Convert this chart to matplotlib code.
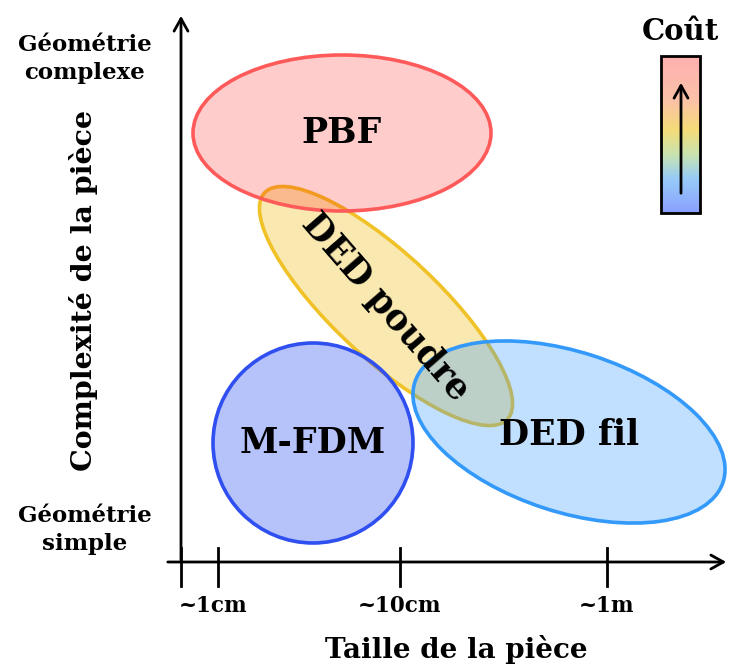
import matplotlib
matplotlib.use('Agg')
import matplotlib.pyplot as plt
from matplotlib.patches import Ellipse, Rectangle
from matplotlib.colors import LinearSegmentedColormap
import numpy as np

plt.rcParams['font.family'] = ['DejaVu Serif']
plt.rcParams['font.weight'] = 'bold'

# process regions (pixel frame of the drawing)
procedes = ['DED poudre', 'PBF', 'M-FDM', 'DED fil']
centres = [(386, 306), (342, 133), (313, 443), (569, 432)]
largeurs = [332, 298, 200, 324]
hauteurs = [105, 156, 200, 160]
angles = [43, 0, 0, 18]
remplissage = ['#f0c020', '#ff0000', '#3050f2', '#3399ff']
alphas = [0.35, 0.2, 0.35, 0.3]
contours = ['#f0c228', '#ff5a5a', '#2f4ff0', '#3399fa']
rotation_txt = [-49, 0, 0, 0]
pos_txt = [(385, 307), (342, 133), (313, 443), (569, 435)]

# size axis
ticks_x = [181, 218, 400, 607]
labels_pos = [213, 400, 607]
labels_x = ['~1cm', '~10cm', '~1m']

# cost gradient (top -> bottom)
cout_couleurs = [(0.0, '#ffb0b0'), (0.28, '#fbc2a8'), (0.47, '#f5dc78'),
                 (0.63, '#c8e4b0'), (0.78, '#98ccf8'), (1.0, '#8aa0ff')]

fig = plt.figure(figsize=(7.29, 6.67), dpi=100)
ax = fig.add_axes([0, 0, 1, 1])
ax.set_xlim(0, 729)
ax.set_ylim(667, 0)
ax.axis('off')

for i in range(len(procedes)):
    ax.add_patch(Ellipse(centres[i], largeurs[i], hauteurs[i], angle=angles[i],
                         facecolor=remplissage[i], alpha=alphas[i], edgecolor='none', zorder=2 + i))
    ax.add_patch(Ellipse(centres[i], largeurs[i], hauteurs[i], angle=angles[i],
                         facecolor='none', edgecolor=contours[i], lw=2.6, zorder=2 + i))

for i in range(len(procedes)):
    ax.text(pos_txt[i][0], pos_txt[i][1], procedes[i], fontsize=25, ha='center', va='center',
            rotation=rotation_txt[i], rotation_mode='anchor', zorder=10)

# axes
arrow = dict(arrowstyle='->,head_length=0.9,head_width=0.5', lw=2, color='black')
ax.annotate('', xy=(181, 13), xytext=(181, 563), arrowprops=arrow, zorder=8)
ax.annotate('', xy=(729, 562), xytext=(165, 562), arrowprops=arrow, zorder=8)
for t in ticks_x:
    ax.plot([t, t], [548, 586], color='black', lw=2, zorder=8)
for p, l in zip(labels_pos, labels_x):
    ax.text(p, 606, l, fontsize=15.5, ha='center', va='center')
ax.text(456, 650, 'Taille de la pièce', fontsize=20, ha='center', va='center')
ax.text(84, 290, 'Complexité de la pièce', fontsize=20.5, ha='center', va='center', rotation=90)
ax.text(85, 59, 'Géométrie\ncomplexe', fontsize=16.5, ha='center', va='center', linespacing=1.4)
ax.text(85, 530, 'Géométrie\nsimple', fontsize=16.5, ha='center', va='center', linespacing=1.4)

# cost bar
cmap = LinearSegmentedColormap.from_list('cout', cout_couleurs)
grad = np.linspace(0, 1, 256).reshape(-1, 1)
ax.imshow(grad, cmap=cmap, extent=[661, 700, 213, 56], aspect='auto', zorder=5)
ax.add_patch(Rectangle((661, 56), 39, 157, facecolor='none', edgecolor='black', lw=2, zorder=6))
ax.annotate('', xy=(681, 80), xytext=(681, 196),
            arrowprops=dict(arrowstyle='->,head_length=0.9,head_width=0.5', lw=2, color='black'), zorder=7)
ax.text(680, 31, 'Coût', fontsize=21, ha='center', va='center')
ax.set_xlim(0, 729)
ax.set_ylim(667, 0)

fig.savefig('out.png', dpi=100)
